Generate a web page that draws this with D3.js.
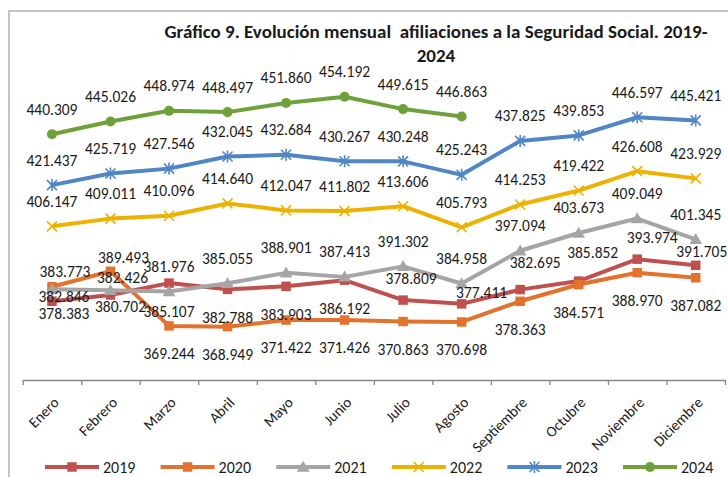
<!DOCTYPE html>
<html lang="es">
<head>
<meta charset="UTF-8">
<title>Afiliaciones Seguridad Social</title>
<script src="https://d3js.org/d3.v7.min.js"></script>
<style>
  body { margin: 0; background: #fff; }
  svg text { font-family: Carlito, Calibri, "Noto Sans", sans-serif; fill: #1a1a1a; }
</style>
</head>
<body>
<div id="chart"></div>
<script>
const months = ["Enero", "Febrero", "Marzo", "Abril", "Mayo", "Junio", "Julio",
  "Agosto", "Septiembre", "Octubre", "Noviembre", "Diciembre"];
const years = ["2019", "2020", "2021", "2022", "2023", "2024"];

const s2019 = [378383, 380702, 385107, 382788, 383903, 386192, 378809, 377411, 382695, 385852, 393974, 391705];
const s2020 = [383773, 389493, 369244, 368949, 371422, 371426, 370863, 370698, 378363, 384571, 388970, 387082];
const s2021 = [382846, 382426, 381976, 385055, 388901, 387413, 391302, 384958, 397094, 403673, 409049, 401345];
const s2022 = [406147, 409011, 410096, 414640, 412047, 411802, 413606, 405793, 414253, 419422, 426608, 423929];
const s2023 = [421437, 425719, 427546, 432045, 432684, 430267, 430248, 425243, 437825, 439853, 446597, 445421];
const s2024 = [440309, 445026, 448974, 448497, 451860, 454192, 449615, 446863];

const colors = ["#C0504D", "#E2722C", "#A5A5A5", "#EDB200", "#4F86C3", "#6FA13A"];
const markers = ["square", "square", "triangle", "cross", "star", "circle"];

// label placement (dx, dy of label centre from the point)
const UP = [0, -25], DOWN = [0, 28];
const labelPos = [
  [[12, 12], [10, 12], DOWN, DOWN, DOWN, DOWN, [8, -22], [20, -11], [15, -27], [14, -29], [15, -22], [6, -14]],
  [[13, -15], [13, -14], DOWN, DOWN, DOWN, DOWN, DOWN, DOWN, DOWN, DOWN, DOWN, DOWN],
  [[12, 7], [12, -13], UP, UP, UP, UP, UP, UP, UP, UP, UP, UP],
  Array(12).fill(UP),
  Array(12).fill(UP),
  Array(12).fill(UP)
];

const series = [s2019, s2020, s2021, s2022, s2023, s2024].map((vals, i) => ({
  name: years[i], values: vals, color: colors[i], marker: markers[i], pos: labelPos[i]
}));

const W = 728, H = 477;
const svg = d3.select("#chart").append("svg")
  .attr("width", W).attr("height", H);

// chart frame
svg.append("rect")
  .attr("x", 9).attr("y", 11).attr("width", W + 20).attr("height", H + 20)
  .attr("fill", "none").attr("stroke", "#a6a6a6").attr("stroke-width", 1.3);

// title
const title = svg.append("text")
  .attr("text-anchor", "middle")
  .style("font-weight", "bold").style("font-size", "19px");
title.append("tspan").attr("x", 436).attr("y", 38)
  .text("Gráfico 9. Evolución mensual\u00a0 afiliaciones a la Seguridad Social. 2019-");
title.append("tspan").attr("x", 436).attr("y", 62).text("2024");

const x = d3.scaleBand().domain(months).range([22.7, 725]);
const y = d3.scaleLinear().domain([350000, 470000]).range([377.8, 54.1]);

const fmt = d3.formatLocale({ decimal: ",", thousands: ".", grouping: [3], currency: ["", "€"] }).format(",d");

// x axis: labels at band centres, tick marks at band edges
const axisY = 380;
const xAxis = svg.append("g")
  .attr("transform", `translate(0,${axisY})`)
  .call(d3.axisBottom(x).tickSize(0).tickPadding(0));
xAxis.select(".domain").attr("stroke", "#868686").attr("stroke-width", 1.3);
xAxis.selectAll("text")
  .attr("text-anchor", "end")
  .attr("x", -11).attr("y", 17).attr("dy", "0.35em")
  .attr("transform", "rotate(-45)")
  .style("font-size", "15px").style("font-family", "Carlito, Calibri, 'Noto Sans', sans-serif")
  .attr("fill", "#1a1a1a");

const edge = d3.scaleLinear().domain([0, months.length]).range(x.range());
svg.append("g")
  .attr("transform", `translate(0,${axisY})`)
  .call(d3.axisBottom(edge).ticks(months.length).tickSize(5).tickFormat(""))
  .call(g => g.select(".domain").remove())
  .selectAll("line").attr("stroke", "#868686").attr("stroke-width", 1.3);

const cx = (d, i) => x(months[i]) + x.bandwidth() / 2;

function drawMarker(g, type, color) {
  if (type === "square") {
    g.append("path").attr("d", d3.symbol(d3.symbolSquare, 90)()).attr("fill", color);
  } else if (type === "triangle") {
    g.append("path").attr("d", d3.symbol(d3.symbolTriangle, 70)()).attr("fill", color)
      .attr("transform", "translate(0,1)");
  } else if (type === "circle") {
    g.append("path").attr("d", d3.symbol(d3.symbolCircle, 80)()).attr("fill", color);
  } else if (type === "cross") {
    g.append("path").attr("d", "M-5,-5L5,5M-5,5L5,-5")
      .attr("stroke", color).attr("stroke-width", 1.6).attr("fill", "none");
  } else if (type === "star") {
    g.append("path").attr("d", "M-5,-5L5,5M-5,5L5,-5M0,-6L0,6")
      .attr("stroke", color).attr("stroke-width", 1.6).attr("fill", "none");
  }
}

const line = d3.line().x(cx).y(d => y(d));

series.forEach(s => {
  const g = svg.append("g");
  g.append("path")
    .datum(s.values)
    .attr("d", line)
    .attr("fill", "none")
    .attr("stroke", s.color)
    .attr("stroke-width", 4)
    .attr("stroke-linejoin", "round");

  g.selectAll(".mk")
    .data(s.values)
    .join("g")
    .attr("transform", (d, i) => `translate(${cx(d, i)},${y(d)})`)
    .each(function () { drawMarker(d3.select(this), s.marker, s.color); });
});

// data labels on top of all lines
series.forEach(s => {
  svg.append("g").selectAll("text")
    .data(s.values)
    .join("text")
    .attr("x", (d, i) => cx(d, i) + s.pos[i][0])
    .attr("y", (d, i) => y(d) + s.pos[i][1])
    .attr("dy", "0.35em")
    .attr("text-anchor", "middle")
    .style("font-size", "15.5px")
    .text(d => fmt(d));
});

// legend
const leg = svg.append("g").attr("transform", "translate(45,467)");
series.forEach((s, i) => {
  const it = leg.append("g").attr("transform", `translate(${i * 115.6},0)`);
  it.append("line").attr("x1", 0).attr("x2", 54).attr("y1", 0).attr("y2", 0)
    .attr("stroke", s.color).attr("stroke-width", 4);
  const m = it.append("g").attr("transform", "translate(27,0)");
  drawMarker(m, s.marker, s.color);
  it.append("text").attr("x", 58).attr("y", 0).attr("dy", "0.35em")
    .style("font-size", "16px").text(s.name);
});
</script>
</body>
</html>
